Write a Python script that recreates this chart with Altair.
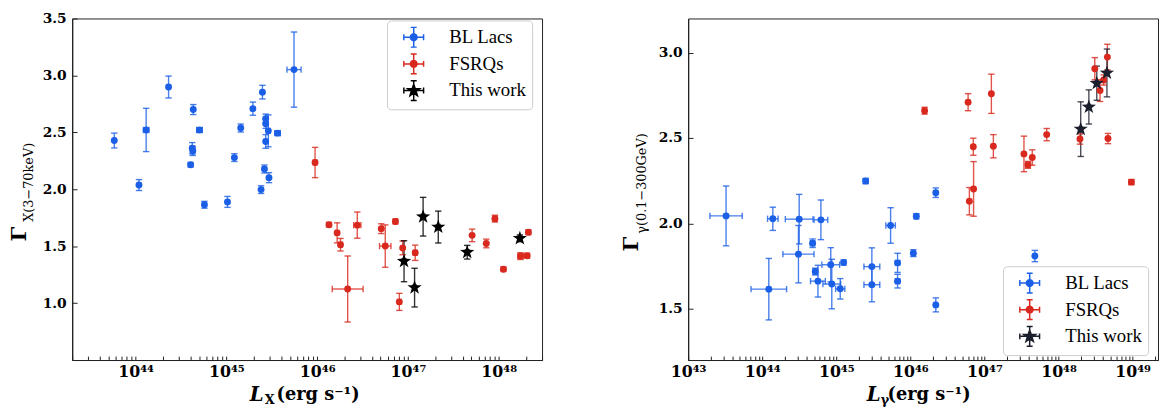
import math
import altair as alt
import pandas as pd

SERIES = ["BL Lacs", "FSRQs", "This work"]
BLUE = "#1a5fe6"
RED = "#d9291e"
BLACK = "#000000"
NAVY = "#1b1f2d"

# ---------------- Left panel: X-ray (3-70 keV) ----------------
lx_bl_logL = [43.765, 44.037, 44.116, 44.363, 44.635, 44.624, 44.63, 44.606, 44.704, 44.758, 45.012, 45.088,
              45.158, 45.292, 45.397, 45.382, 45.419, 45.469, 45.433, 45.433, 45.462, 45.433, 45.564, 45.745]
lx_bl_gam = [2.428, 2.037, 2.521, 2.898, 2.70, 2.36, 2.337, 2.215, 2.521, 1.864, 1.889, 2.278,
             2.538, 2.708, 2.853, 1.997, 2.178, 2.102, 2.62, 2.575, 2.513, 2.42, 2.493, 3.051]
lx_bl_yerr = [0.065, 0.048, 0.19, 0.096, 0.044, 0.05, 0.04, 0.02, 0.02, 0.03, 0.048, 0.034,
              0.035, 0.058, 0.06, 0.034, 0.035, 0.044, 0.04, 0.04, 0.14, 0.06, 0.02, 0.33]
lx_bl_xerr = [0, 0, 0.03, 0, 0, 0, 0, 0, 0.03, 0, 0, 0,
              0, 0, 0, 0, 0, 0, 0, 0, 0.02, 0, 0.03, 0.078]

lx_fs_logL = [45.977, 46.13, 46.22, 46.257, 46.336, 46.442, 46.706, 46.75, 46.862, 46.905, 46.942, 47.08,
              47.707, 47.863, 47.958, 48.052, 48.24, 48.313, 48.327]
lx_fs_gam = [2.235, 1.689, 1.617, 1.513, 1.124, 1.685, 1.654, 1.501, 1.717, 1.011, 1.485, 1.442,
             1.595, 1.524, 1.742, 1.298, 1.413, 1.416, 1.623]
lx_fs_yerr = [0.133, 0.02, 0.088, 0.055, 0.29, 0.115, 0.043, 0.186, 0.02, 0.075, 0.06, 0.067,
              0.055, 0.038, 0.03, 0.02, 0.03, 0.02, 0.02]
lx_fs_xerr = [0.02, 0, 0.02, 0.02, 0.17, 0.04, 0, 0.063, 0.02, 0.02, 0, 0.02,
              0, 0, 0.02, 0, 0.03, 0.02, 0.02]

lx_tw_logL = [46.957, 47.073, 47.167, 47.334, 47.653, 48.233]
lx_tw_gam = [1.368, 1.136, 1.759, 1.668, 1.447, 1.569]
lx_tw_yerr = [0.18, 0.17, 0.17, 0.14, 0.06, 0.03]
lx_tw_xerr = [0.02, 0.02, 0.02, 0.02, 0.02, 0.02]

# ---------------- Right panel: gamma-ray (0.1-300 GeV) ----------------
rg_bl_logL = [43.512, 44.143, 44.499, 44.489, 44.089, 44.792, 44.68, 44.716, 44.752, 44.925, 44.939, 45.099,
              45.053, 45.396, 45.48, 45.48, 45.733, 45.827, 45.827, 46.08, 46.04, 46.343, 46.343, 47.68]
rg_bl_gam = [2.044, 2.027, 2.025, 1.82, 1.615, 2.021, 1.884, 1.718, 1.662, 1.758, 1.645, 1.771,
             1.617, 2.248, 1.747, 1.641, 1.988, 1.769, 1.662, 2.042, 1.826, 2.18, 1.523, 1.809]
rg_bl_yerr = [0.175, 0.068, 0.145, 0.168, 0.18, 0.116, 0.025, 0.02, 0.093, 0.1, 0.145, 0.015,
              0.06, 0.015, 0.11, 0.1, 0.104, 0.056, 0.04, 0.015, 0.02, 0.028, 0.041, 0.033]
rg_bl_xerr = [0.218, 0.071, 0.187, 0.21, 0.24, 0.093, 0.03, 0.03, 0.1, 0.12, 0.12, 0.0,
              0.062, 0.03, 0.107, 0.107, 0.064, 0.03, 0.03, 0.02, 0.02, 0.0, 0.02, 0.0]

rg_fs_logL = [46.192, 46.779, 47.093, 46.849, 47.12, 46.853, 46.796, 47.533, 47.587, 47.645, 47.84, 48.289,
              48.667, 48.489, 48.56, 48.609, 48.659, 48.983]
rg_fs_gam = [2.66, 2.71, 2.759, 2.449, 2.452, 2.202, 2.13, 2.407, 2.343, 2.386, 2.52, 2.494,
             2.497, 2.906, 2.778, 2.84, 2.974, 2.242]
rg_fs_yerr = [0.02, 0.05, 0.115, 0.05, 0.068, 0.16, 0.08, 0.104, 0.02, 0.045, 0.036, 0.03,
              0.03, 0.065, 0.064, 0.03, 0.075, 0.015]
rg_fs_xerr = [0.02, 0, 0, 0, 0, 0, 0, 0, 0.03, 0, 0, 0,
              0, 0, 0, 0.02, 0, 0.03]

rg_tw_logL = [48.299, 48.409, 48.516, 48.653]
rg_tw_gam = [2.552, 2.682, 2.821, 2.881]
rg_tw_yerr = [0.16, 0.1, 0.1, 0.14]
rg_tw_xerr = [0.02, 0.02, 0.02, 0.02]

# tick labels
left_xtick_powers = [44, 45, 46, 47, 48]
left_xtick_labels = ["10⁴⁴", "10⁴⁵", "10⁴⁶", "10⁴⁷", "10⁴⁸"]
right_xtick_powers = [43, 44, 45, 46, 47, 48, 49]
right_xtick_labels = ["10⁴³", "10⁴⁴", "10⁴⁵", "10⁴⁶", "10⁴⁷", "10⁴⁸", "10⁴⁹"]
left_yticks = [1.0, 1.5, 2.0, 2.5, 3.0, 3.5]
right_yticks = [1.5, 2.0, 2.5, 3.0]


def frame(groups):
    rows = []
    for name, logL, gam, yerr, xerr in groups:
        for a, b, c, d in zip(logL, gam, yerr, xerr):
            rows.append({"logL": a, "gamma": b, "yerr": c, "xerr": d, "series": name})
    return pd.DataFrame(rows)


left_df = frame([("BL Lacs", lx_bl_logL, lx_bl_gam, lx_bl_yerr, lx_bl_xerr),
                 ("FSRQs", lx_fs_logL, lx_fs_gam, lx_fs_yerr, lx_fs_xerr),
                 ("This work", lx_tw_logL, lx_tw_gam, lx_tw_yerr, lx_tw_xerr)])
right_df = frame([("BL Lacs", rg_bl_logL, rg_bl_gam, rg_bl_yerr, rg_bl_xerr),
                  ("FSRQs", rg_fs_logL, rg_fs_gam, rg_fs_yerr, rg_fs_xerr),
                  ("This work", rg_tw_logL, rg_tw_gam, rg_tw_yerr, rg_tw_xerr)])


def star_path(r_out, ratio=0.4):
    pts = []
    for k in range(10):
        ang = math.radians(-90 + 36 * k)
        r = r_out if k % 2 == 0 else r_out * ratio
        pts.append((r * math.cos(ang), r * math.sin(ang)))
    return "M" + "L".join(f"{x:.3f},{y:.3f}" for x, y in pts) + "Z"


def disc_path(r, n=20):
    pts = [(r * math.cos(2 * math.pi * k / n), r * math.sin(2 * math.pi * k / n)) for k in range(n)]
    return "M" + "L".join(f"{x:.3f},{y:.3f}" for x, y in pts) + "Z"


STAR = star_path(1.0, 0.4)
BARS = "M-1,0L1,0M0,-1L0,1M-1,-0.3L-1,0.3M1,-0.3L1,0.3M-0.3,-1L0.3,-1M-0.3,1L0.3,1"
LEG_DOT = BARS + disc_path(0.34)
LEG_STAR = BARS + star_path(0.64, 0.4)
HCAP = "M-1,0L1,0"
VCAP = "M0,-1L0,1"

SERIF = "DejaVu Serif"
LEG_FONT = "Liberation Serif"
PLOT_W, PLOT_H = 476, 346


def minor_ticks(lo, hi):
    vals = []
    for n in range(40, 52):
        for k in range(1, 10):
            v = k * float(f"1e{n}")
            if lo <= v <= hi:
                vals.append(v)
    return vals


def text_layer(s, x, y, size, weight="bold", style="normal", angle=0):
    return alt.Chart(pd.DataFrame({"t": [s]})).mark_text(
        align="left", baseline="middle", font=SERIF, fontSize=size,
        fontWeight=weight, fontStyle=style, angle=angle, color="black"
    ).encode(x=alt.value(x), y=alt.value(y), text="t:N")


def panel(df, xdom, ydom, powers, plabels, yticks, star_color, legend_xy, texts):
    xvals = minor_ticks(xdom[0], xdom[1])
    label_expr = " : ".join(f"datum.value == {float('1e%d' % p)!r} ? '{t}'"
                            for p, t in zip(powers, plabels)) + " : ''"
    xscale = alt.Scale(type="log", domain=xdom, nice=False)
    yscale = alt.Scale(domain=ydom, nice=False, zero=False)
    xaxis = alt.Axis(values=xvals, labelExpr=label_expr, title=None, grid=False,
                     tickSize=alt.ExprRef(expr="-4"), labelPadding=8, labelOverlap=False,
                     labelFlush=False, labelFontSize=16)
    yaxis = alt.Axis(values=yticks, format=".1f", title=None, grid=False,
                     tickSize=alt.ExprRef(expr="-5"), labelPadding=11, labelOverlap=False,
                     labelFlush=False, labelFontSize=14)
    rng = [BLUE, RED, star_color]
    # data-driven (alphabetical) domain for the marks' colour scale, so that its
    # hidden legend does not swallow the custom legend built below
    color = alt.Color("series:N", scale=alt.Scale(range=rng), legend=None)

    base = alt.Chart(df).transform_calculate(
        L="pow(10, datum.logL)",
        Llo="pow(10, datum.logL - datum.xerr)",
        Lhi="pow(10, datum.logL + datum.xerr)",
        glo="datum.gamma - datum.yerr",
        ghi="datum.gamma + datum.yerr",
    )
    X = alt.X("L:Q", scale=xscale, axis=xaxis)
    Y = alt.Y("gamma:Q", scale=yscale, axis=yaxis)

    ybars = base.mark_rule(strokeWidth=1.4, opacity=0.8).encode(
        x=X, y=alt.Y("glo:Q", scale=yscale, axis=yaxis), y2="ghi:Q", color=color)
    xbars = base.transform_filter("datum.xerr > 0").mark_rule(strokeWidth=1.4, opacity=0.8).encode(
        x=alt.X("Llo:Q", scale=xscale, axis=xaxis), x2="Lhi:Q", y=Y, color=color)
    ycaps = base.transform_fold(["glo", "ghi"], as_=["k", "gv"]).mark_point(
        shape=HCAP, size=42, filled=False, strokeWidth=1.4, opacity=0.8).encode(
        x=X, y=alt.Y("gv:Q", scale=yscale, axis=yaxis), color=color)
    xcaps = base.transform_filter("datum.xerr > 0").transform_fold(["Llo", "Lhi"], as_=["k", "lv"]).mark_point(
        shape=VCAP, size=42, filled=False, strokeWidth=1.4, opacity=0.8).encode(
        x=alt.X("lv:Q", scale=xscale, axis=xaxis), y=Y, color=color)
    dots = base.transform_filter("datum.series != 'This work'").mark_circle(size=49, opacity=1).encode(
        x=X, y=Y, color=color)
    stars = base.transform_filter("datum.series == 'This work'").mark_point(
        shape=STAR, filled=True, size=230, opacity=1).encode(x=X, y=Y, color=color)

    leg = alt.Legend(title=None, orient="none", legendX=legend_xy[0], legendY=legend_xy[1],
                     labelFont=LEG_FONT, labelFontSize=19, labelFontWeight="normal",
                     rowPadding=1, padding=6)
    legend_layer = base.mark_point(filled=True, opacity=0, size=400).encode(
        x=X, y=Y,
        shape=alt.Shape("series:N", scale=alt.Scale(domain=SERIES, range=[LEG_DOT, LEG_DOT, LEG_STAR]), legend=leg),
        fill=alt.Fill("series:N", scale=alt.Scale(domain=SERIES, range=rng), legend=leg),
        stroke=alt.Stroke("series:N", scale=alt.Scale(domain=SERIES, range=rng), legend=leg),
    )

    tl = [text_layer(*t[:4], **t[4]) for t in texts]
    return alt.layer(ybars, xbars, ycaps, xcaps, dots, stars, legend_layer, *tl).properties(
        width=PLOT_W, height=PLOT_H)


left_texts = [
    ("Γ", -53, 226, 21, {"angle": 270}),
    ("X(3−70keV)", -44, 206, 13, {"weight": "normal", "angle": 270}),
    ("L", 180, 381, 20, {"style": "italic"}),
    ("X", 195, 387, 13, {}),
    ("(erg s⁻¹)", 207, 381, 18, {}),
]
right_texts = [
    ("Γ", -57, 236, 21, {"angle": 270}),
    ("γ(0.1−300GeV)", -47, 218, 13, {"weight": "normal", "angle": 270}),
    ("L", 181, 381, 20, {"style": "italic"}),
    ("γ", 195, 387, 13, {}),
    ("(erg s⁻¹)", 202, 381, 18, {}),
]

left = panel(left_df, [2e43, 3e48], [0.5, 3.5], left_xtick_powers, left_xtick_labels,
             left_yticks, BLACK, (319, 2), left_texts)
right = panel(right_df, [1e43, 2.2e49], [1.2, 3.2], right_xtick_powers, right_xtick_labels,
              right_yticks, NAVY, (319, 251), right_texts)

chart = alt.hconcat(left, right, spacing=78).resolve_scale(
    x="independent", y="independent", color="independent",
    fill="independent", stroke="independent", shape="independent"
).resolve_legend(
    fill="independent", stroke="independent", shape="independent"
).properties(
    padding={"left": 0, "top": 0, "right": 0, "bottom": 0}
).configure_view(
    stroke="#222222", strokeWidth=1
).configure_axis(
    domainColor="#222222", tickColor="#222222", labelColor="black", labelFont=SERIF,
    labelFontWeight="bold", grid=False, tickWidth=1, domainWidth=1.2
).configure_legend(
    labelFont=LEG_FONT, labelFontSize=19, labelFontWeight="normal", labelColor="black",
    symbolSize=400, symbolStrokeWidth=1.5, symbolOpacity=1, rowPadding=1, labelOffset=25,
    symbolOffset=10, padding=6, strokeColor="#cccccc", cornerRadius=4, fillColor="white"
)

chart.save("out.html", embed_options={"renderer": "svg", "actions": False})
